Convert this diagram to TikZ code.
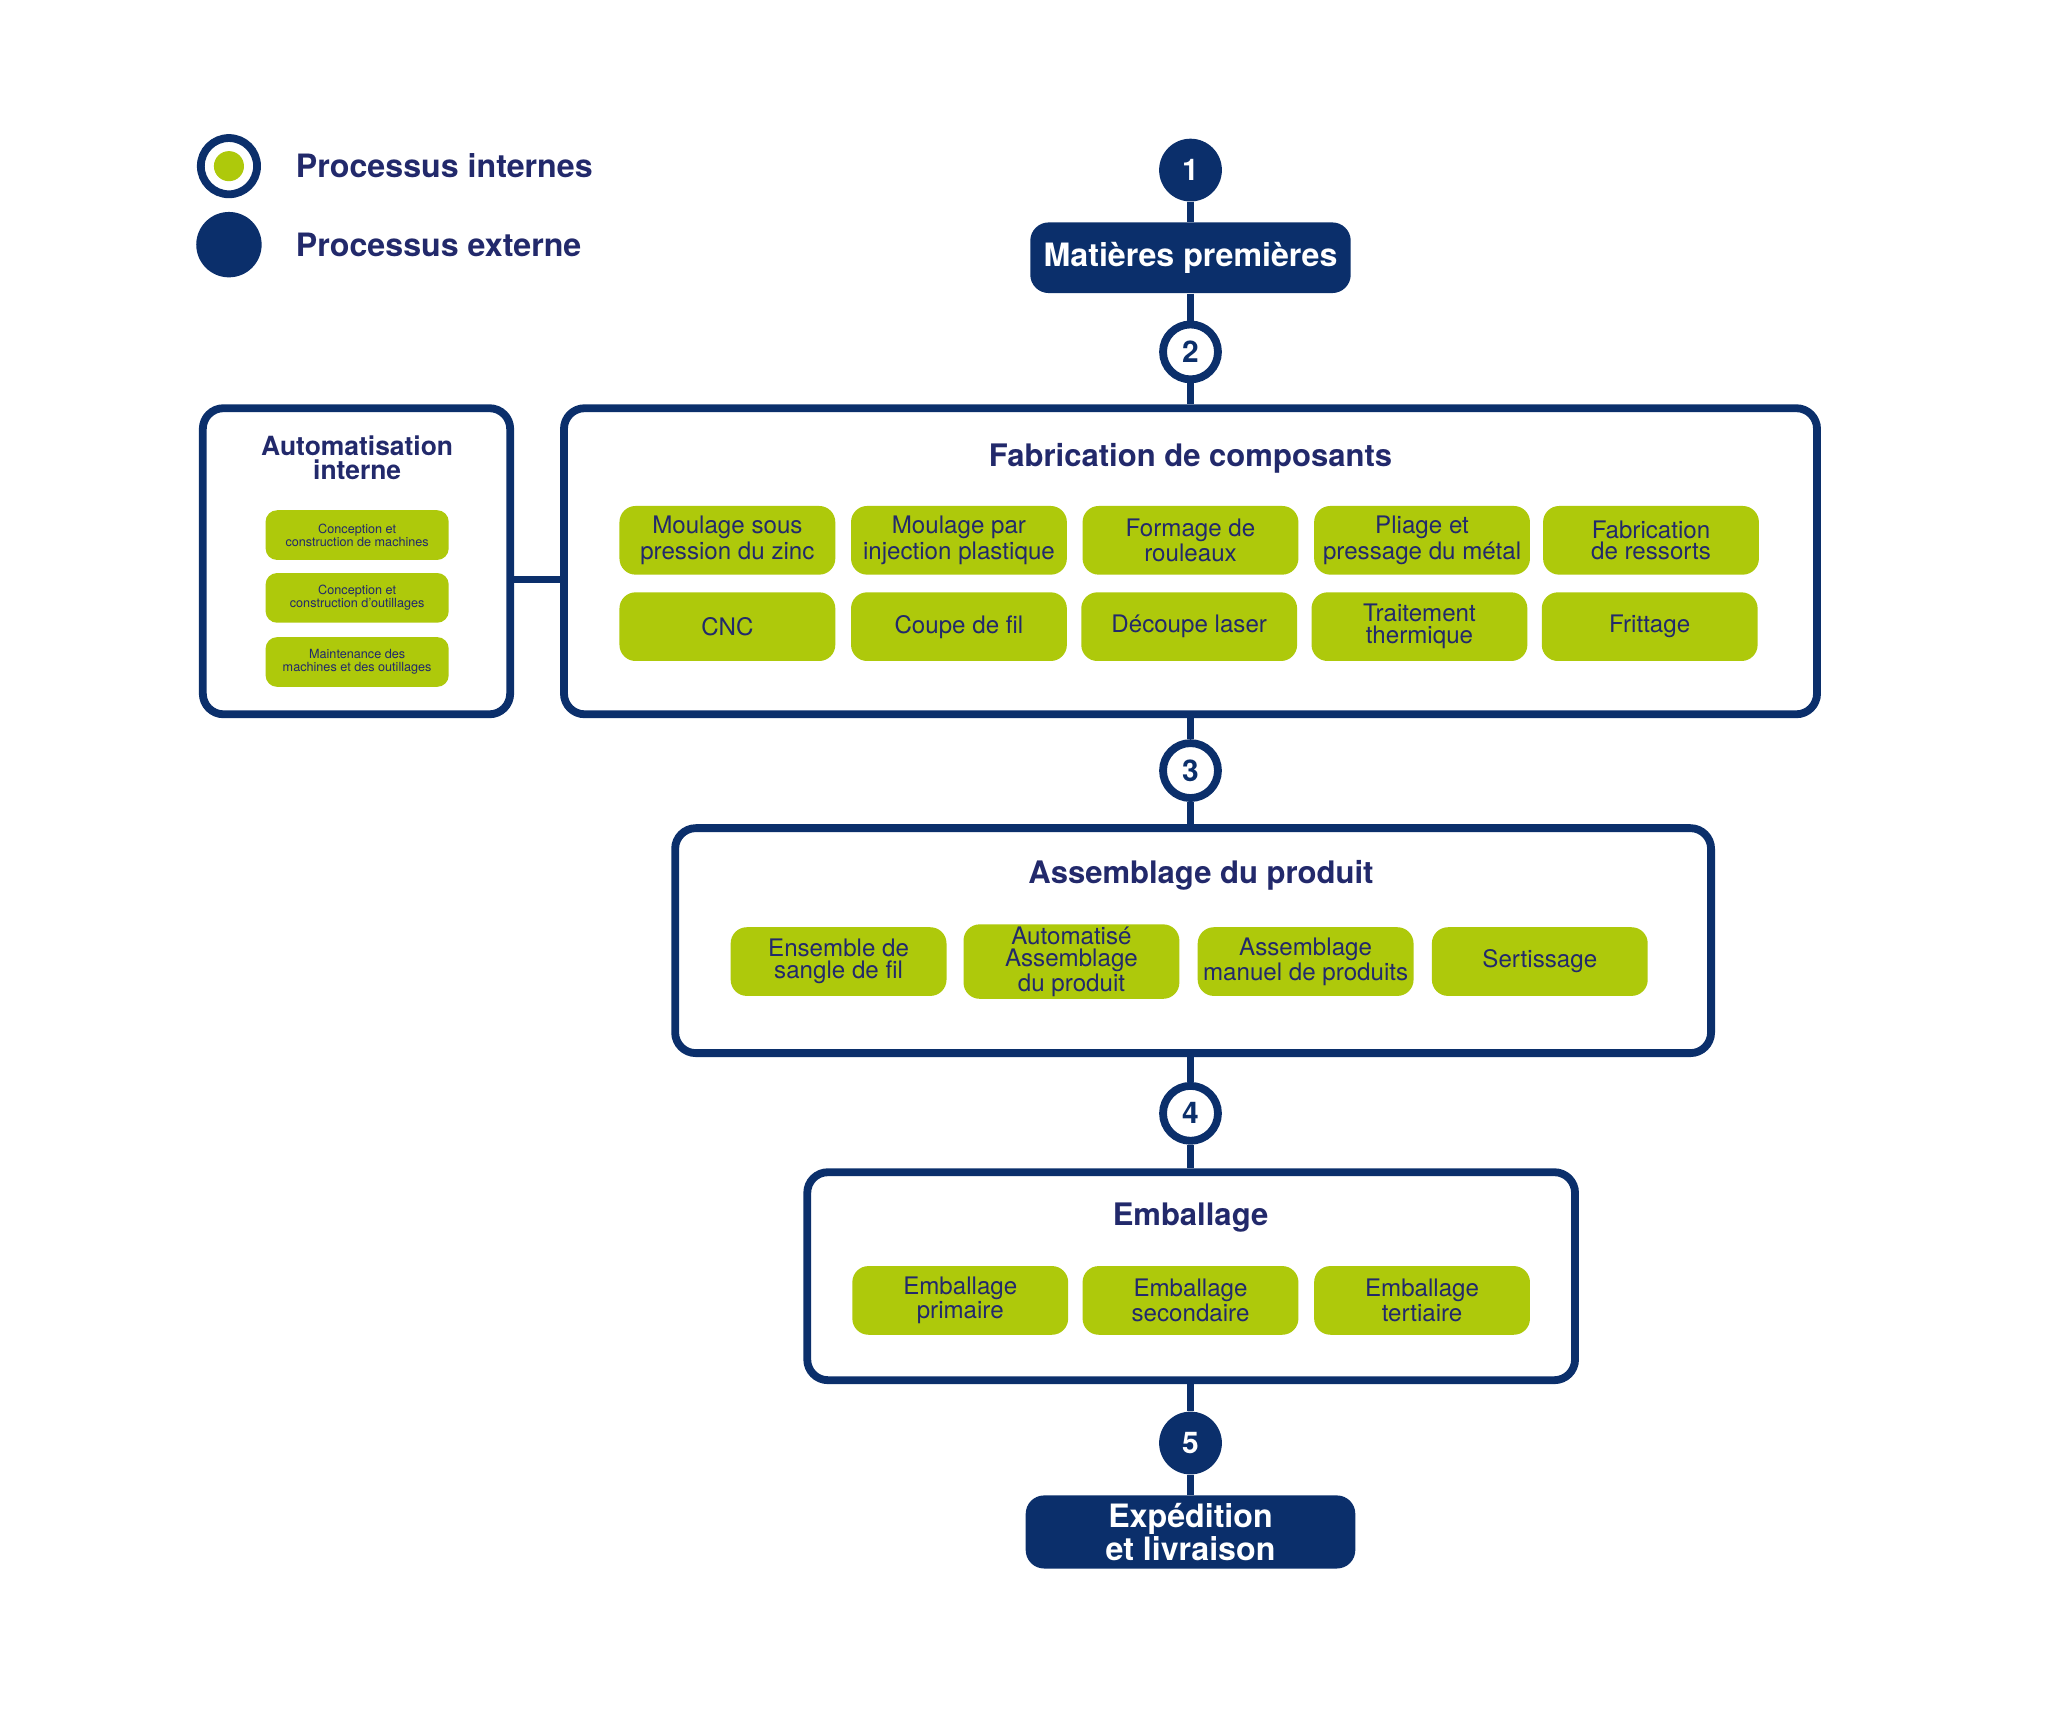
\documentclass[tikz,border=0pt]{standalone}
\usepackage{fontspec}
\setmainfont{TeX Gyre Heros}
\definecolor{navy}{HTML}{0B2F6B}
\definecolor{tnavy}{HTML}{22296B}
\definecolor{lime}{HTML}{AEC90B}
\begin{document}
\begin{tikzpicture}[x=0.02cm,y=-0.02cm,
  frame/.style={draw=navy,line width=3.4pt,rounded corners=9pt,fill=white},
  gbox/.style={fill=lime,rounded corners=7pt,minimum width=3.3cm,minimum height=1.05cm,align=center,font=\fontsize{10.5}{9.5}\selectfont,text=tnavy,inner sep=1pt},
  sbox/.style={fill=lime,rounded corners=5pt,minimum width=2.8cm,minimum height=0.76cm,align=center,font=\fontsize{5.5}{5.5}\selectfont,text=tnavy,inner sep=1pt},
  numext/.style={circle,fill=navy,minimum size=0.96cm,inner sep=0pt,text=white,font=\bfseries\fontsize{13}{13}\selectfont},
  numint/.style={circle,draw=navy,line width=3.4pt,fill=white,minimum size=0.84cm,inner sep=0pt,text=navy,font=\bfseries\fontsize{13}{13}\selectfont},
  ext/.style={fill=navy,rounded corners=8pt,text=white,align=center,font=\bfseries\fontsize{14}{13}\selectfont},
  title/.style={text=tnavy,font=\bfseries\fontsize{13.5}{12}\selectfont,align=center},
  conn/.style={draw=navy,line width=3.4pt}]
\useasboundingbox (0,0) rectangle (1567,1306);
% legend
\node[circle,draw=navy,line width=3.4pt,fill=white,minimum size=0.86cm,inner sep=0pt] (li) at (175,127) {};
\node[circle,fill=lime,minimum size=0.46cm,inner sep=0pt] (lii) at (175,127) {};
\node[anchor=west,text=tnavy,font=\bfseries\fontsize{14}{14}\selectfont] (lt1) at (220,127) {Processus internes};
\node[circle,fill=navy,minimum size=1.0cm,inner sep=0pt] (le) at (175,187) {};
\node[anchor=west,text=tnavy,font=\bfseries\fontsize{14}{14}\selectfont] (lt2) at (220,187) {Processus externe};
% frames
\node[frame,minimum width=19.16cm,minimum height=4.68cm] (fab) at (910,429) {};
\node[frame,minimum width=4.7cm,minimum height=4.68cm] (aut) at (272.5,429) {};
\node[frame,minimum width=15.84cm,minimum height=3.44cm] (asm) at (912,719) {};
\node[frame,minimum width=11.74cm,minimum height=3.18cm] (emb) at (910.5,975.5) {};
% nodes on spine
\node[numext] (n1) at (910,130) {1};
\node[ext,minimum width=4.9cm,minimum height=1.08cm] (mp) at (910,197) {Matières premières};
\node[numint] (n2) at (910,269) {2};
\node[numint] (n3) at (910,589) {3};
\node[numint] (n4) at (910,851) {4};
\node[numext] (n5) at (910,1103) {5};
\node[ext,minimum width=5.04cm,minimum height=1.06cm] (exp) at (910,1171) {Expédition\\et livraison};
% spine connectors
\draw[conn] (n1) -- (mp);
\draw[conn] (mp) -- (n2);
\draw[conn] (n2) -- (fab.north -| n2);
\draw[conn] (fab.south -| n3) -- (n3);
\draw[conn] (n3) -- (asm.north -| n3);
\draw[conn] (asm.south -| n4) -- (n4);
\draw[conn] (n4) -- (emb.north -| n4);
\draw[conn] (emb.south -| n5) -- (n5);
\draw[conn] (n5) -- (exp);
\coordinate (ja) at (390,443);
\coordinate (jb) at (431,443);
\draw[conn] (ja) -- (jb);
% titles
\node[title] (tfab) at (910,350) {Fabrication de composants};
\node[title,font=\bfseries\fontsize{11.5}{10.5}\selectfont] (taut) at (273,350) {Automatisation\\interne};
\node[title] (tasm) at (918,669) {Assemblage du produit};
\node[title] (temb) at (910,931) {Emballage};
% fabrication boxes
\node[gbox] (f1) at (556,413) {Moulage sous\\pression du zinc};
\node[gbox] (f2) at (733,413) {Moulage par\\injection plastique};
\node[gbox] (f3) at (910,413) {Formage de\\rouleaux};
\node[gbox] (f4) at (1087,413) {Pliage et\\pressage du métal};
\node[gbox] (f5) at (1262,413) {Fabrication\\de ressorts};
\node[gbox] (g1) at (556,479) {CNC};
\node[gbox] (g2) at (733,479) {Coupe de fil};
\node[gbox] (g3) at (909,479) {Découpe laser};
\node[gbox] (g4) at (1085,479) {Traitement\\thermique};
\node[gbox] (g5) at (1261,479) {Frittage};
% automation boxes
\node[sbox] (s1) at (273,409) {Conception et\\construction de machines};
\node[sbox] (s2) at (273,457) {Conception et\\construction d'outillages};
\node[sbox] (s3) at (273,506) {Maintenance des\\machines et des outillages};
% assembly
\node[gbox] (a1) at (641,735) {Ensemble de\\sangle de fil};
\node[gbox] (a2) at (819,735) {Automatisé\\Assemblage\\du produit};
\node[gbox] (a3) at (998,735) {Assemblage\\manuel de produits};
\node[gbox] (a4) at (1177,735) {Sertissage};
% packaging
\node[gbox] (e1) at (734,994) {Emballage\\primaire};
\node[gbox] (e2) at (910,994) {Emballage\\secondaire};
\node[gbox] (e3) at (1087,994) {Emballage\\tertiaire};
\end{tikzpicture}
\end{document}
